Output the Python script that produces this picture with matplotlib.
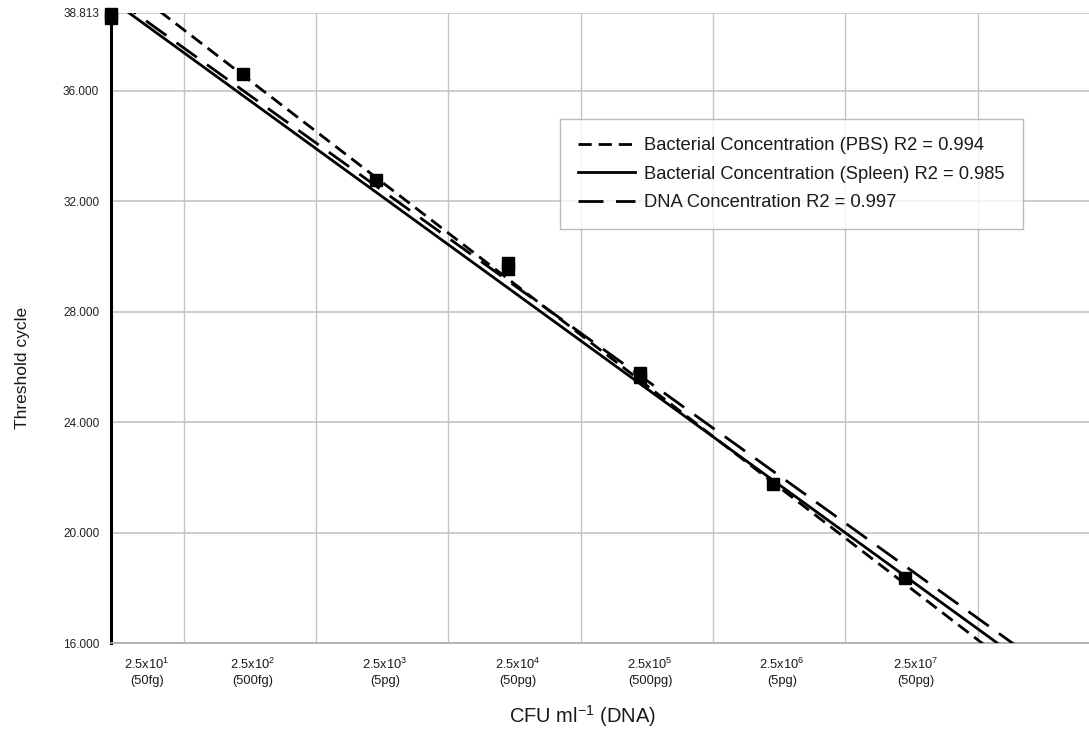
import matplotlib
matplotlib.use("Agg")
import matplotlib.pyplot as plt
import numpy as np

plt.rcParams['font.family'] = ['Liberation Sans', 'DejaVu Sans']
plt.rcParams['mathtext.fontset'] = 'custom'
plt.rcParams['mathtext.rm'] = 'Liberation Sans'
plt.rcParams['mathtext.it'] = 'Liberation Sans:italic'
plt.rcParams['lines.scale_dashes'] = False

# ---- data ----
dilution_exp = [1, 2, 3, 4, 5, 6, 7]
tick_labels = ["2.5x10$^{1}$\n(50fg)", "2.5x10$^{2}$\n(500fg)", "2.5x10$^{3}$\n(5pg)",
               "2.5x10$^{4}$\n(50pg)", "2.5x10$^{5}$\n(500pg)", "2.5x10$^{6}$\n(5pg)",
               "2.5x10$^{7}$\n(50pg)"]
# measured threshold cycles (replicates share a dilution index)
point_idx = [0, 0, 1, 2, 3, 3, 4, 4, 5, 6]
point_ct = [38.79, 38.65, 36.60, 32.78, 29.76, 29.54, 25.78, 25.63, 21.76, 18.35]

# regression fits: Ct = intercept + slope * index
series_names = ["Bacterial Concentration (PBS) R2 = 0.994",
                "Bacterial Concentration (Spleen) R2 = 0.985",
                "DNA Concentration R2 = 0.997"]
fit_slope = [-3.681, -3.477, -3.441]
fit_intercept = [40.23, 39.29, 39.44]

y_ticks = [16.0, 20.0, 24.0, 28.0, 32.0, 36.0, 38.813]

# ---- figure ----
W, H = 1089, 731
fig = plt.figure(figsize=(W / 100, H / 100), dpi=100)
ax = fig.add_axes([111 / W, 1 - 643 / H, 1 - 111 / W, (643 - 13) / H])

xmax = 7.392
ax.set_xlim(0, xmax)
ax.set_ylim(16.0, 38.813)

# grid
grid_c = '#c4c4c4'
for gx in np.arange(len(dilution_exp) + 1) + 0.55:
    ax.axvline(gx, color=grid_c, lw=1.0, zorder=0)
for gy in y_ticks:
    ax.axhline(gy, color=grid_c, lw=1.2, zorder=0)

for s in ['top', 'right']:
    ax.spines[s].set_visible(False)
ax.spines['bottom'].set_color('#aaaaaa')
ax.spines['bottom'].set_linewidth(1.2)
ax.spines['left'].set_color('black')
ax.spines['left'].set_linewidth(2.2)

# fitted lines
styles = [(0, (9.5, 5)), '-', (0, (18, 9))]
xs = np.array([0.0, xmax])
handles = []
for name, m, b, ls in zip(series_names, fit_slope, fit_intercept, styles):
    ln, = ax.plot(xs, b + m * xs, color='black', lw=2.0, linestyle=ls, label=name, zorder=3)
    handles.append(ln)

# data points
ax.plot(point_idx, point_ct, linestyle='none', marker='s', ms=8.3, color='black',
        zorder=5, clip_on=False)

# ticks
label_pos = [0.272, 1.073, 2.071, 3.076, 4.074, 5.07, 6.085]
ax.set_xticks(label_pos)
ax.set_xticklabels(tick_labels, fontsize=9.3, linespacing=1.3, color='#1a1a1a')
ax.tick_params(axis='x', length=0, pad=10)
ax.set_yticks(y_ticks)
ax.set_yticklabels(["%.3f" % v for v in y_ticks], fontsize=8.5, color='#222222')
ax.tick_params(axis='y', length=0, pad=8.5)

fig.text(22 / W, 1 - 368 / H, "Threshold cycle", rotation=90, fontsize=12.5,
         ha='center', va='center', color='#1a1a1a')
fig.text(583 / W, 1 - 716 / H, "CFU ml$^{-1}$ (DNA)", fontsize=14.5,
         ha='center', va='center', color='#1a1a1a')

leg = ax.legend(handles=handles, loc='upper left',
                bbox_to_anchor=(560 / W, 1 - 119 / H), bbox_transform=fig.transFigure,
                borderaxespad=0, fontsize=13.2, frameon=True, fancybox=False,
                handlelength=3.1, handletextpad=0.5, labelspacing=0.62,
                borderpad=1.0)
leg.get_frame().set_edgecolor('#aaaaaa')
leg.get_frame().set_linewidth(1.0)
for t in leg.get_texts():
    t.set_color('#1a1a1a')

fig.savefig("out.png", dpi=100)
